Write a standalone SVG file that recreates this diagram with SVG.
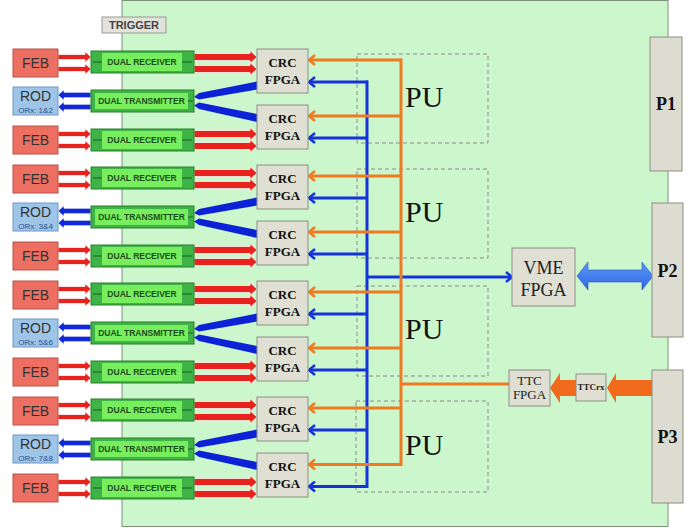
<svg xmlns="http://www.w3.org/2000/svg" width="696" height="529" viewBox="0 0 696 529">
<style>
.sans{font-family:"Liberation Sans",Arial,sans-serif}
.ser{font-family:"Liberation Serif","Times New Roman",serif}
.feb{fill:#ed6f62;stroke:#b9524a;stroke-width:1}
.rod{fill:#9ec4e8;stroke:#6f98c4;stroke-width:1}
.febt{font-size:14px;fill:#333;text-anchor:middle}
.rodt{font-size:14px;fill:#333;text-anchor:middle}
.orx{font-size:8px;fill:#2c4f8c;text-anchor:middle}
.outer{fill:#3db445;stroke:#2a7f2a;stroke-width:1}
.inner{fill:#78ee5e}
.stub{stroke:#1e5e1e;stroke-width:1}
.dt{font-size:8.5px;font-weight:bold;fill:#1b4d1b;text-anchor:middle}
.crc{fill:#dfdfd3;stroke:#8e8e84;stroke-width:1}
.crct{font-size:13px;font-weight:bold;fill:#111;text-anchor:middle}
.pu{fill:none;stroke:#8a8a8a;stroke-width:1;stroke-dasharray:4 3}
.put{font-size:30px;fill:#111}
.conn{fill:#dcdcd0;stroke:#8e8e84;stroke-width:1}
.pt{font-size:18px;font-weight:bold;fill:#111;text-anchor:middle}
.bo{stroke:#f07a22;stroke-width:3;fill:none}
.bb{stroke:#1433db;stroke-width:3;fill:none}
.ao{marker-end:url(#chevO)}
.ab{marker-end:url(#chevB)}
.red{fill:#e8231d;stroke:#fff;stroke-width:0.8}
.blue{fill:#1028d8;stroke:#fff;stroke-width:0.8}
.thick{fill:#0b22d6}
</style>
<defs>
<marker id="chevO" markerWidth="12" markerHeight="12" refX="10" refY="6" orient="auto" markerUnits="userSpaceOnUse" viewBox="0 0 12 12"><path d="M4,1 L10,6 L4,11" fill="none" stroke="#f07a22" stroke-width="2.5"/></marker>
<marker id="chevB" markerWidth="12" markerHeight="12" refX="10" refY="6" orient="auto" markerUnits="userSpaceOnUse" viewBox="0 0 12 12"><path d="M4,1 L10,6 L4,11" fill="none" stroke="#1433db" stroke-width="2.5"/></marker>
<polygon id="redS" class="red" points="0,-2.6 27,-2.6 27,-5.5 33,0 27,5.5 27,2.6 0,2.6"/>
<polygon id="redL" class="red" points="0,-3.6 56,-3.6 56,-6.5 63,0 56,6.5 56,3.6 0,3.6"/>
<polygon id="blueS" class="blue" points="0,0 6,-5.5 6,-2.8 33,-2.8 33,2.8 6,2.8 6,5.5"/>
<linearGradient id="vg" x1="0" y1="0" x2="0" y2="1"><stop offset="0" stop-color="#5b95f5"/><stop offset="1" stop-color="#2f6ae6"/></linearGradient>
</defs>

<rect id="board" x="122" y="0.5" width="546" height="526" fill="#ccf7cc" stroke="#7d917d" stroke-width="1"/>

<g id="trigger"><rect x="102" y="17" width="64" height="16" fill="#e2e2da" stroke="#9a9a92"/><text class="sans" x="134" y="29" font-size="11" font-weight="bold" fill="#444" text-anchor="middle">TRIGGER</text></g>

<!-- PU boxes -->
<g id="pu1"><rect class="pu" x="357" y="54" width="131" height="89"/><text class="ser put" x="405" y="107">PU</text></g>
<g id="pu2"><rect class="pu" x="357" y="169" width="131" height="89"/><text class="ser put" x="405" y="222">PU</text></g>
<g id="pu3"><rect class="pu" x="357" y="286" width="131" height="90"/><text class="ser put" x="405" y="339">PU</text></g>
<g id="pu4"><rect class="pu" x="356" y="401" width="132" height="91"/><text class="ser put" x="405" y="455">PU</text></g>

<!-- connectors -->
<g id="connectors">
<!-- group 0 -->
<use href="#redS" x="58" y="57"/><use href="#redS" x="58" y="69"/>
<use href="#redL" x="194" y="57"/><use href="#redL" x="194" y="69"/>
<use href="#redS" x="58" y="134"/><use href="#redS" x="58" y="146"/>
<use href="#redL" x="194" y="134"/><use href="#redL" x="194" y="146"/>
<use href="#blueS" x="58" y="95"/><use href="#blueS" x="58" y="107"/>
<polygon class="thick" points="257,81.5 257,89.5 199,99.5 194,97 199,93"/>
<polygon class="thick" points="257,114 257,122 199,109 194,105.5 199,102.5"/>
<!-- group 1 -->
<use href="#redS" x="58" y="173"/><use href="#redS" x="58" y="185"/>
<use href="#redL" x="194" y="173"/><use href="#redL" x="194" y="185"/>
<use href="#redS" x="58" y="250"/><use href="#redS" x="58" y="262"/>
<use href="#redL" x="194" y="250"/><use href="#redL" x="194" y="262"/>
<use href="#blueS" x="58" y="211"/><use href="#blueS" x="58" y="223"/>
<polygon class="thick" points="257,197.5 257,205.5 199,215.5 194,213 199,209"/>
<polygon class="thick" points="257,230 257,238 199,225 194,221.5 199,218.5"/>
<!-- group 2 -->
<use href="#redS" x="58" y="289"/><use href="#redS" x="58" y="301"/>
<use href="#redL" x="194" y="289"/><use href="#redL" x="194" y="301"/>
<use href="#redS" x="58" y="366"/><use href="#redS" x="58" y="378"/>
<use href="#redL" x="194" y="366"/><use href="#redL" x="194" y="378"/>
<use href="#blueS" x="58" y="327"/><use href="#blueS" x="58" y="339"/>
<polygon class="thick" points="257,313.5 257,321.5 199,331.5 194,329 199,325"/>
<polygon class="thick" points="257,346 257,354 199,341 194,337.5 199,334.5"/>
<!-- group 3 -->
<use href="#redS" x="58" y="405"/><use href="#redS" x="58" y="417"/>
<use href="#redL" x="194" y="405"/><use href="#redL" x="194" y="417"/>
<use href="#redS" x="58" y="482"/><use href="#redS" x="58" y="494"/>
<use href="#redL" x="194" y="482"/><use href="#redL" x="194" y="494"/>
<use href="#blueS" x="58" y="443"/><use href="#blueS" x="58" y="455"/>
<polygon class="thick" points="257,429.5 257,437.5 199,447.5 194,445 199,441"/>
<polygon class="thick" points="257,462 257,470 199,457 194,453.5 199,450.5"/>

<!-- blue bus -->
<line class="bb" x1="367" y1="80.5" x2="367" y2="488"/>
<line class="bb ab" x1="368" y1="82" x2="309" y2="82"/>
<line class="bb ab" x1="368" y1="138" x2="309" y2="138"/>
<line class="bb ab" x1="368" y1="198" x2="309" y2="198"/>
<line class="bb ab" x1="368" y1="254" x2="309" y2="254"/>
<line class="bb ab" x1="368" y1="314" x2="309" y2="314"/>
<line class="bb ab" x1="368" y1="370" x2="309" y2="370"/>
<line class="bb ab" x1="368" y1="430" x2="309" y2="430"/>
<line class="bb ab" x1="368" y1="486.5" x2="309" y2="486.5"/>
<line class="bb ab" x1="366" y1="277" x2="512" y2="277"/>
<!-- orange bus -->
<line class="bo" x1="401" y1="58.5" x2="401" y2="466"/>
<line class="bo ao" x1="402" y1="60" x2="309" y2="60"/>
<line class="bo ao" x1="402" y1="116" x2="309" y2="116"/>
<line class="bo ao" x1="402" y1="176" x2="309" y2="176"/>
<line class="bo ao" x1="402" y1="232" x2="309" y2="232"/>
<line class="bo ao" x1="402" y1="292" x2="309" y2="292"/>
<line class="bo ao" x1="402" y1="348" x2="309" y2="348"/>
<line class="bo ao" x1="402" y1="408" x2="309" y2="408"/>
<line class="bo ao" x1="402" y1="464.5" x2="309" y2="464.5"/>
<line class="bo" x1="400" y1="384" x2="509" y2="384"/>
<!-- VME <-> P2 -->
<polygon points="577,276 588,262 588,270 642,270 642,262 653,276 642,290 642,282 588,282 588,290" fill="url(#vg)" stroke="#2a58c0" stroke-width="0.6"/>
<!-- P3 -> TTCrx -> TTC FPGA -->
<polygon points="607,388 616,373 616,380 652,380 652,396 616,396 616,403" fill="#f26a1b"/>
<polygon points="550,388 560,373 560,380 576,380 576,396 560,396 560,403" fill="#f26a1b"/>
</g>

<!-- FEB / ROD -->
<g id="feb1"><rect class="feb" x="13" y="49" width="45" height="28"/><text class="sans febt" x="35.5" y="68">FEB</text></g>
<g id="rod1"><rect class="rod" x="13" y="87" width="45" height="28"/><text class="sans rodt" x="35.5" y="101">ROD</text><text class="sans orx" x="35.5" y="112.5">ORx: 1&amp;2</text></g>
<g id="feb2"><rect class="feb" x="13" y="126" width="45" height="28"/><text class="sans febt" x="35.5" y="145">FEB</text></g>
<g id="feb3"><rect class="feb" x="13" y="165" width="45" height="28"/><text class="sans febt" x="35.5" y="184">FEB</text></g>
<g id="rod2"><rect class="rod" x="13" y="203" width="45" height="28"/><text class="sans rodt" x="35.5" y="217">ROD</text><text class="sans orx" x="35.5" y="228.5">ORx: 3&amp;4</text></g>
<g id="feb4"><rect class="feb" x="13" y="242" width="45" height="28"/><text class="sans febt" x="35.5" y="261">FEB</text></g>
<g id="feb5"><rect class="feb" x="13" y="281" width="45" height="28"/><text class="sans febt" x="35.5" y="300">FEB</text></g>
<g id="rod3"><rect class="rod" x="13" y="319" width="45" height="28"/><text class="sans rodt" x="35.5" y="333">ROD</text><text class="sans orx" x="35.5" y="344.5">ORx: 5&amp;6</text></g>
<g id="feb6"><rect class="feb" x="13" y="358" width="45" height="28"/><text class="sans febt" x="35.5" y="377">FEB</text></g>
<g id="feb7"><rect class="feb" x="13" y="397" width="45" height="28"/><text class="sans febt" x="35.5" y="416">FEB</text></g>
<g id="rod4"><rect class="rod" x="13" y="435" width="45" height="28"/><text class="sans rodt" x="35.5" y="449">ROD</text><text class="sans orx" x="35.5" y="460.5">ORx: 7&amp;8</text></g>
<g id="feb8"><rect class="feb" x="13" y="474" width="45" height="28"/><text class="sans febt" x="35.5" y="493">FEB</text></g>

<!-- receivers / transmitters -->
<g id="rx1"><rect class="outer" x="91" y="51" width="103" height="22"/><rect class="inner" x="102" y="53" width="80" height="18"/><line class="stub" x1="93" y1="62" x2="102" y2="62"/><line class="stub" x1="182" y1="62" x2="192" y2="62"/><text class="sans dt" x="142" y="65">DUAL RECEIVER</text></g>
<g id="tx1"><rect class="outer" x="91" y="90" width="103" height="22"/><rect class="inner" x="95" y="93" width="93" height="16"/><line class="stub" x1="188" y1="101" x2="193" y2="101"/><text class="sans dt" x="141.5" y="104">DUAL TRANSMITTER</text></g>
<g id="rx2"><rect class="outer" x="91" y="129" width="103" height="22"/><rect class="inner" x="102" y="131" width="80" height="18"/><line class="stub" x1="93" y1="140" x2="102" y2="140"/><line class="stub" x1="182" y1="140" x2="192" y2="140"/><text class="sans dt" x="142" y="143">DUAL RECEIVER</text></g>
<g id="rx3"><rect class="outer" x="91" y="167" width="103" height="22"/><rect class="inner" x="102" y="169" width="80" height="18"/><line class="stub" x1="93" y1="178" x2="102" y2="178"/><line class="stub" x1="182" y1="178" x2="192" y2="178"/><text class="sans dt" x="142" y="181">DUAL RECEIVER</text></g>
<g id="tx2"><rect class="outer" x="91" y="206" width="103" height="22"/><rect class="inner" x="95" y="209" width="93" height="16"/><line class="stub" x1="188" y1="217" x2="193" y2="217"/><text class="sans dt" x="141.5" y="220">DUAL TRANSMITTER</text></g>
<g id="rx4"><rect class="outer" x="91" y="245" width="103" height="22"/><rect class="inner" x="102" y="247" width="80" height="18"/><line class="stub" x1="93" y1="256" x2="102" y2="256"/><line class="stub" x1="182" y1="256" x2="192" y2="256"/><text class="sans dt" x="142" y="259">DUAL RECEIVER</text></g>
<g id="rx5"><rect class="outer" x="91" y="283" width="103" height="22"/><rect class="inner" x="102" y="285" width="80" height="18"/><line class="stub" x1="93" y1="294" x2="102" y2="294"/><line class="stub" x1="182" y1="294" x2="192" y2="294"/><text class="sans dt" x="142" y="297">DUAL RECEIVER</text></g>
<g id="tx3"><rect class="outer" x="91" y="322" width="103" height="22"/><rect class="inner" x="95" y="325" width="93" height="16"/><line class="stub" x1="188" y1="333" x2="193" y2="333"/><text class="sans dt" x="141.5" y="336">DUAL TRANSMITTER</text></g>
<g id="rx6"><rect class="outer" x="91" y="361" width="103" height="22"/><rect class="inner" x="102" y="363" width="80" height="18"/><line class="stub" x1="93" y1="372" x2="102" y2="372"/><line class="stub" x1="182" y1="372" x2="192" y2="372"/><text class="sans dt" x="142" y="375">DUAL RECEIVER</text></g>
<g id="rx7"><rect class="outer" x="91" y="399" width="103" height="22"/><rect class="inner" x="102" y="401" width="80" height="18"/><line class="stub" x1="93" y1="410" x2="102" y2="410"/><line class="stub" x1="182" y1="410" x2="192" y2="410"/><text class="sans dt" x="142" y="413">DUAL RECEIVER</text></g>
<g id="tx4"><rect class="outer" x="91" y="438" width="103" height="22"/><rect class="inner" x="95" y="441" width="93" height="16"/><line class="stub" x1="188" y1="449" x2="193" y2="449"/><text class="sans dt" x="141.5" y="452">DUAL TRANSMITTER</text></g>
<g id="rx8"><rect class="outer" x="91" y="477" width="103" height="22"/><rect class="inner" x="102" y="479" width="80" height="18"/><line class="stub" x1="93" y1="488" x2="102" y2="488"/><line class="stub" x1="182" y1="488" x2="192" y2="488"/><text class="sans dt" x="142" y="491">DUAL RECEIVER</text></g>

<!-- CRC FPGAs -->
<g id="crc1"><rect class="crc" x="257" y="49" width="51" height="44"/><text class="ser crct" x="282.5" y="67">CRC</text><text class="ser crct" x="282.5" y="84">FPGA</text></g>
<g id="crc2"><rect class="crc" x="257" y="105" width="51" height="44"/><text class="ser crct" x="282.5" y="123">CRC</text><text class="ser crct" x="282.5" y="140">FPGA</text></g>
<g id="crc3"><rect class="crc" x="257" y="165" width="51" height="44"/><text class="ser crct" x="282.5" y="183">CRC</text><text class="ser crct" x="282.5" y="200">FPGA</text></g>
<g id="crc4"><rect class="crc" x="257" y="221" width="51" height="44"/><text class="ser crct" x="282.5" y="239">CRC</text><text class="ser crct" x="282.5" y="256">FPGA</text></g>
<g id="crc5"><rect class="crc" x="257" y="281" width="51" height="44"/><text class="ser crct" x="282.5" y="299">CRC</text><text class="ser crct" x="282.5" y="316">FPGA</text></g>
<g id="crc6"><rect class="crc" x="257" y="337" width="51" height="44"/><text class="ser crct" x="282.5" y="355">CRC</text><text class="ser crct" x="282.5" y="372">FPGA</text></g>
<g id="crc7"><rect class="crc" x="257" y="397" width="51" height="44"/><text class="ser crct" x="282.5" y="415">CRC</text><text class="ser crct" x="282.5" y="432">FPGA</text></g>
<g id="crc8"><rect class="crc" x="257" y="453" width="51" height="44"/><text class="ser crct" x="282.5" y="471">CRC</text><text class="ser crct" x="282.5" y="488">FPGA</text></g>

<!-- VME / TTC -->
<g id="vme"><rect class="crc" x="512" y="248" width="63" height="58"/><text class="ser" x="543.5" y="274" font-size="18" fill="#222" text-anchor="middle">VME</text><text class="ser" x="543.5" y="296" font-size="18" fill="#222" text-anchor="middle">FPGA</text></g>
<g id="ttcfpga"><rect class="crc" x="509" y="370" width="41" height="36"/><text class="ser" x="529.5" y="385" font-size="13" fill="#222" text-anchor="middle">TTC</text><text class="ser" x="529.5" y="399" font-size="13" fill="#222" text-anchor="middle">FPGA</text></g>
<g id="ttcrx"><rect class="crc" x="576" y="374" width="30" height="27"/><text class="ser" x="591" y="390" font-size="9" font-weight="bold" fill="#222" text-anchor="middle">TTCrx</text></g>

<!-- backplane connectors -->
<g id="p1"><rect class="conn" x="650" y="37" width="32" height="134"/><text class="ser pt" x="666" y="110">P1</text></g>
<g id="p2"><rect class="conn" x="652" y="203" width="31" height="134"/><text class="ser pt" x="667.5" y="277">P2</text></g>
<g id="p3"><rect class="conn" x="652" y="370" width="31" height="133"/><text class="ser pt" x="667.5" y="443">P3</text></g>
</svg>
